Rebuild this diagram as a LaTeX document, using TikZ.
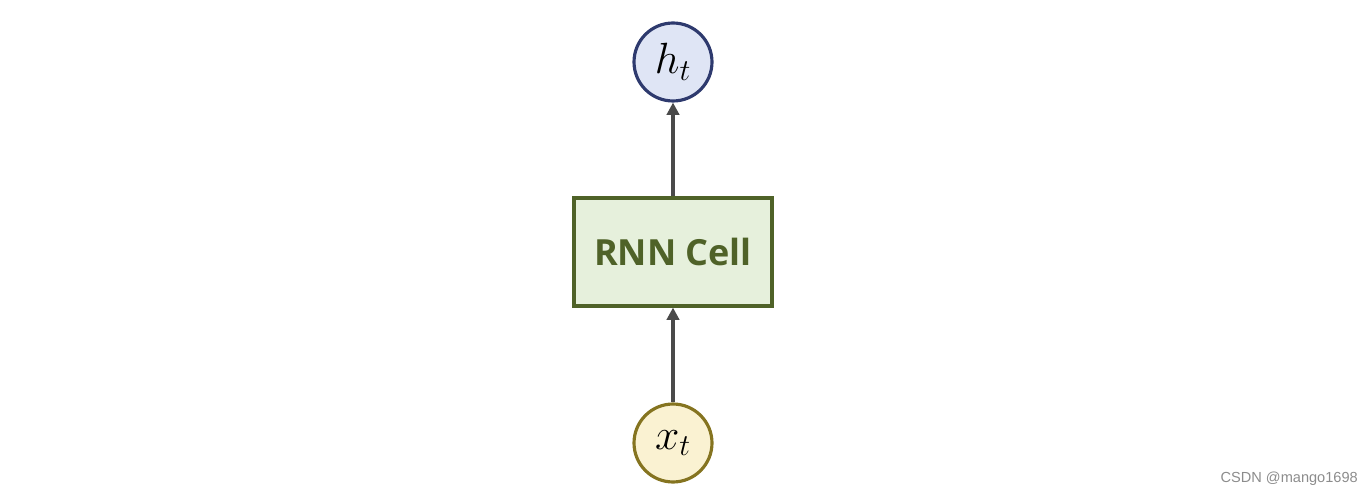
\documentclass[tikz,border=0pt]{standalone}
\usepackage{fontspec}
\setsansfont{Open Sans}
\newfontfamily\markfont{Liberation Sans}
\usetikzlibrary{arrows.meta}
\def\noderad{0.78cm}
\definecolor{hline}{HTML}{2E3A6E}
\definecolor{hfill}{HTML}{DFE5F5}
\definecolor{cline}{HTML}{4F6228}
\definecolor{cfill}{HTML}{E6F0DC}
\definecolor{xline}{HTML}{857420}
\definecolor{xfill}{HTML}{FAF2D2}
\definecolor{arrowgray}{HTML}{4A4A4A}

\begin{document}
\begin{tikzpicture}[x=0.02cm,y=-0.02cm]
            \tikzstyle{every edge}=[draw=arrowgray,line width=1.8pt,-{Triangle[length=7pt,width=7pt]}]
            \tikzstyle{unit}=[circle,minimum size=2*\noderad,inner sep=0pt,line width=1.8pt,font=\fontsize{24}{28}\selectfont]
            \tikzstyle{output unit}=[unit,draw=hline,fill=hfill]
            \tikzstyle{input unit}=[unit,draw=xline,fill=xfill]
            \tikzstyle{cell}=[rectangle,draw=cline,fill=cfill,line width=1.8pt,minimum width=3.96cm,minimum height=2.16cm,text=cline,font=\sffamily\bfseries\fontsize{20.5}{24}\selectfont]

            % Fix the page size
            \useasboundingbox (0,0) rectangle (1372,496);

            % Draw the cell and its input and output
            \node[cell] (CELL) at (673,252) {RNN Cell};
            \node[output unit] (OUT) at (673,62) {\(h_t\)};
            \node[input unit] (IN) at (673,443) {\(x_t\)};

            % Connect input to cell and cell to output
            \path (IN) edge (CELL);
            \path (CELL) edge (OUT);

            % Watermark
            \node[anchor=east,text=black!45,font=\markfont\fontsize{8.3}{10}\selectfont] (MARK) at (1364,479) {CSDN @mango1698};
        \end{tikzpicture}
\end{document}
